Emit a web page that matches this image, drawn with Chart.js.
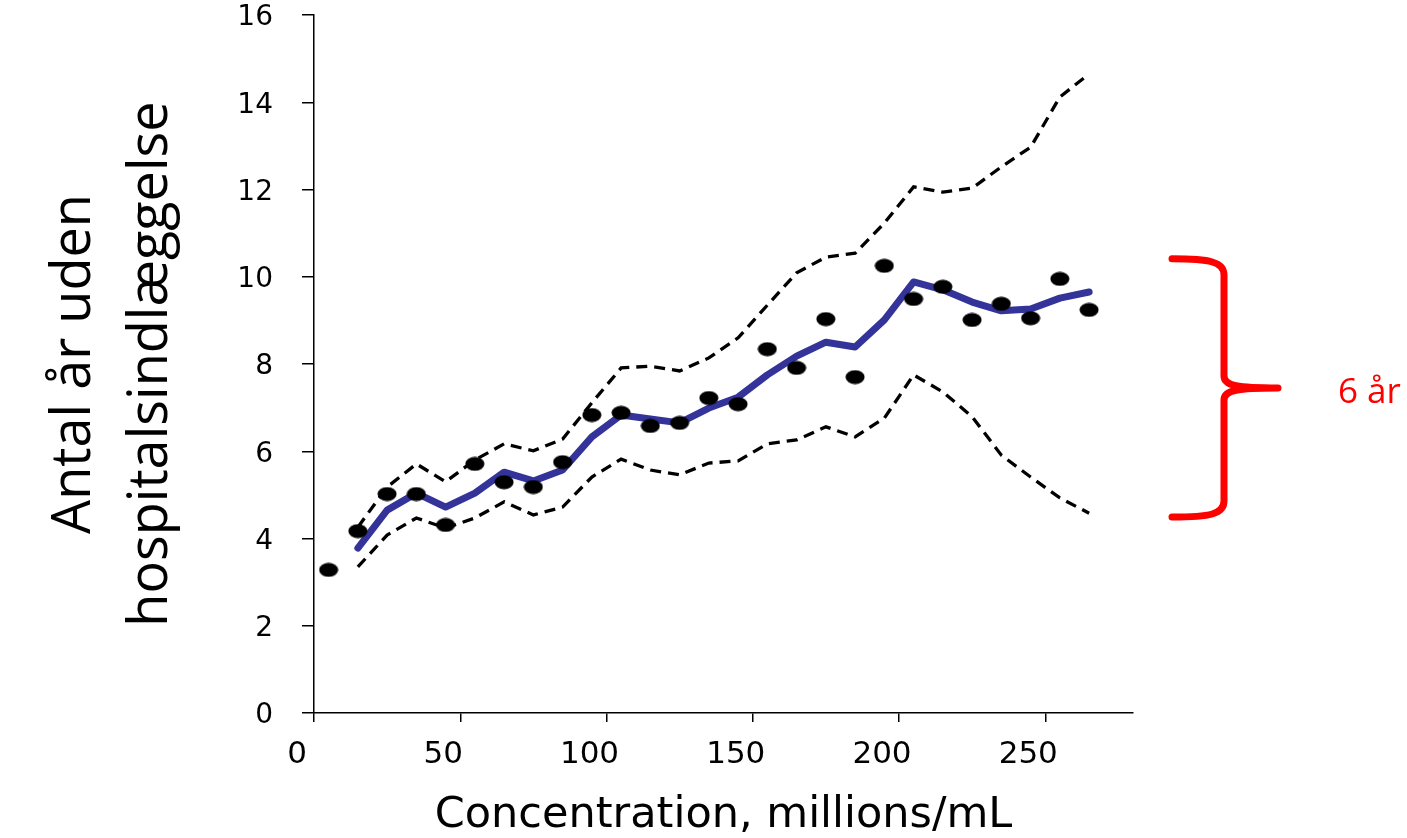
<!DOCTYPE html>
<html>
<head>
<meta charset="utf-8">
<script src="https://cdn.jsdelivr.net/npm/chart.js@4.4.1/dist/chart.umd.min.js"></script>
<style>
  html, body { margin: 0; padding: 0; background: #ffffff; overflow: hidden; }
  canvas { display: block; }
</style>
</head>
<body>
<canvas id="chart" width="1407" height="838"></canvas>
<script>
// ---- data ----
const concentration = [5, 15, 25, 35, 45, 55, 65, 75, 85, 95, 105, 115, 125, 135, 145, 155, 165, 175, 185, 195, 205, 215, 225, 235, 245, 255, 265];
const observed = [3.28, 4.17, 5.02, 5.02, 4.31, 5.71, 5.29, 5.18, 5.75, 6.83, 6.88, 6.58, 6.65, 7.22, 7.08, 8.34, 7.91, 9.03, 7.70, 10.25, 9.49, 9.77, 9.01, 9.38, 9.05, 9.95, 9.24];

const curveX = [15, 25, 35, 45, 55, 65, 75, 85, 95, 105, 115, 125, 135, 145, 155, 165, 175, 185, 195, 205, 215, 225, 235, 245, 255, 265];
const fitted = [3.78, 4.65, 5.04, 4.72, 5.04, 5.52, 5.32, 5.57, 6.33, 6.83, 6.74, 6.65, 6.99, 7.24, 7.75, 8.18, 8.50, 8.39, 9.01, 9.88, 9.70, 9.42, 9.22, 9.26, 9.51, 9.65];
const upperLimit = [4.26, 5.18, 5.71, 5.30, 5.80, 6.17, 6.01, 6.28, 7.11, 7.91, 7.95, 7.84, 8.14, 8.60, 9.35, 10.09, 10.45, 10.54, 11.23, 12.06, 11.94, 12.03, 12.52, 12.97, 14.12, 14.65];
const lowerLimit = [3.35, 4.08, 4.47, 4.24, 4.47, 4.84, 4.54, 4.72, 5.41, 5.82, 5.57, 5.46, 5.73, 5.78, 6.17, 6.26, 6.56, 6.33, 6.76, 7.75, 7.36, 6.79, 5.91, 5.41, 4.93, 4.58];

const xTicks = [0, 50, 100, 150, 200, 250];
const yTicks = [0, 2, 4, 6, 8, 10, 12, 14, 16];

const xTitle = 'Concentration, millions/mL';
const yTitle = ['Antal år uden', 'hospitalsindlæggelse'];
const braceLabel = '6 år';
const braceRange = [4.49, 10.41];   // y-values spanned by the red brace

// ---- drawing ----
function pts(xs, ys) { return xs.map((x, i) => ({ x: x, y: ys[i] })); }

const dot = document.createElement('canvas');
dot.width = 20; dot.height = 15;
(function () {
  const d = dot.getContext('2d');
  d.fillStyle = '#000000';
  d.beginPath();
  d.ellipse(10, 7.5, 9.5, 7, 0, 0, Math.PI * 2);
  d.fill();
})();

const bracePlugin = {
  id: 'brace',
  afterDraw(chart) {
    const { ctx, chartArea, scales } = chart;
    const y = scales.y;
    const yTop = y.getPixelForValue(braceRange[1]);
    const yBot = y.getPixelForValue(braceRange[0]);
    const yMid = (yTop + yBot) / 2;
    const xEnd = chartArea.right + 39;
    const xBar = chartArea.right + 91;
    const xTip = chartArea.right + 145;
    ctx.save();
    ctx.strokeStyle = '#ff0000';
    ctx.lineWidth = 7;
    ctx.lineCap = 'round';
    ctx.lineJoin = 'round';
    ctx.beginPath();
    ctx.moveTo(xEnd, yTop);
    ctx.bezierCurveTo(xBar - 14, yTop, xBar, yTop + 3, xBar, yTop + 16);
    ctx.lineTo(xBar, yMid - 12);
    ctx.bezierCurveTo(xBar, yMid - 2, xBar + 14, yMid, xTip, yMid);
    ctx.moveTo(xTip, yMid);
    ctx.bezierCurveTo(xBar + 14, yMid, xBar, yMid + 2, xBar, yMid + 12);
    ctx.lineTo(xBar, yBot - 16);
    ctx.bezierCurveTo(xBar, yBot - 3, xBar - 14, yBot, xEnd, yBot);
    ctx.stroke();
    ctx.fillStyle = '#ff0000';
    ctx.font = '35px "Open Sans"';
    ctx.textBaseline = 'alphabetic';
    ctx.textAlign = 'left';
    ctx.fillText(braceLabel, chartArea.right + 205, yMid + 15);
    ctx.restore();
  }
};

function noEdgePadding(s) {
  s.paddingTop = 0; s.paddingBottom = 0; s.paddingLeft = 0; s.paddingRight = 0;
}

function build() {
  new Chart(document.getElementById('chart'), {
    type: 'scatter',
    data: {
      datasets: [
        {
          label: 'Observed',
          data: pts(concentration, observed),
          showLine: false,
          pointStyle: dot,
          pointRadius: 9,
          pointHoverRadius: 9
        },
        {
          label: 'Fitted',
          data: pts(curveX, fitted),
          showLine: true,
          borderColor: '#333399',
          borderWidth: 7,
          borderCapStyle: 'round',
          borderJoinStyle: 'round',
          pointRadius: 0,
          pointHoverRadius: 0,
          tension: 0
        },
        {
          label: 'Upper',
          data: pts(curveX, upperLimit),
          showLine: true,
          borderColor: '#000000',
          borderWidth: 3.3,
          borderDash: [11, 7],
          pointRadius: 0,
          pointHoverRadius: 0,
          tension: 0
        },
        {
          label: 'Lower',
          data: pts(curveX, lowerLimit),
          showLine: true,
          borderColor: '#000000',
          borderWidth: 3.3,
          borderDash: [11, 7],
          pointRadius: 0,
          pointHoverRadius: 0,
          tension: 0
        }
      ]
    },
    options: {
      responsive: false,
      animation: false,
      devicePixelRatio: 1,
      layout: { padding: { top: 15, right: 274, bottom: 0, left: 0 } },
      plugins: {
        legend: { display: false },
        tooltip: { enabled: false },
        title: { display: false }
      },
      elements: { line: { fill: false } },
      scales: {
        x: {
          type: 'linear',
          min: 0,
          max: 280,
          afterBuildTicks: s => { s.ticks = xTicks.map(v => ({ value: v })); },
          afterFit: s => { s.height = 125; noEdgePadding(s); },
          grid: { display: true, drawOnChartArea: false, drawTicks: true, tickLength: 9, color: '#000000', lineWidth: 1.5 },
          border: { display: true, color: '#000000', width: 1.5 },
          ticks: {
            font: { family: 'DejaVu Sans', size: 31 },
            color: '#000000',
            padding: 14,
            labelOffset: -17,
            maxRotation: 0,
            autoSkip: false
          },
          title: {
            display: true,
            text: xTitle,
            color: '#000000',
            font: { family: 'DejaVu Sans', size: 43, lineHeight: 1 },
            padding: { top: 0, bottom: 0.5 }
          }
        },
        y: {
          type: 'linear',
          min: 0,
          max: 16,
          afterBuildTicks: s => { s.ticks = yTicks.map(v => ({ value: v })); },
          afterFit: s => { s.width = 314; noEdgePadding(s); },
          grid: { display: true, drawOnChartArea: false, drawTicks: true, tickLength: 12, color: '#000000', lineWidth: 1.5 },
          border: { display: true, color: '#000000', width: 1.5 },
          ticks: {
            font: { family: 'DejaVu Sans', size: 28, lineHeight: 1 },
            color: '#000000',
            padding: 29,
            labelOffset: 3,
            autoSkip: false
          },
          title: {
            display: true,
            text: yTitle,
            color: '#000000',
            font: { family: 'Open Sans', size: 54, lineHeight: 1.426 },
            padding: { top: 36, bottom: 0 }
          }
        }
      }
    },
    plugins: [bracePlugin]
  });
}

const fontLoads = [
  '31px "DejaVu Sans"', '43px "DejaVu Sans"', '28px "DejaVu Sans"', '54px "Open Sans"', '35px "Open Sans"'
].map(f => document.fonts.load(f, 'Antal år 0123456789').catch(() => null));
Promise.race([Promise.all(fontLoads), new Promise(r => setTimeout(r, 1500))]).then(build);
</script>
</body>
</html>
